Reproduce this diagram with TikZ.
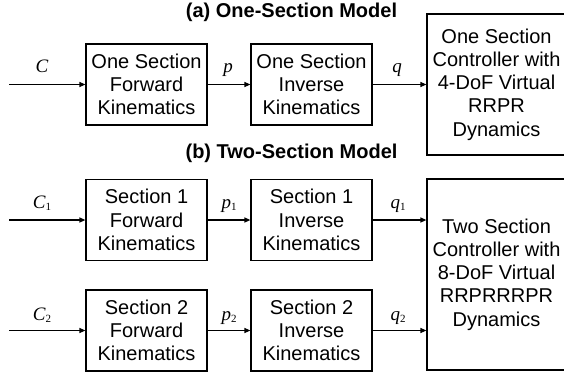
\documentclass[tikz,border=0pt]{standalone}
\usepackage{fontspec}
\setmainfont{Liberation Sans}
\newfontfamily\lblfont{Liberation Serif}
\usetikzlibrary{arrows.meta}
\newcommand{\lbl}[2]{{\lblfont\itshape\fontsize{19}{19}\selectfont #1}{\lblfont\fontsize{11}{11}\selectfont\raisebox{-2.5pt}{#2}}}
\tikzset{
  blk/.style={draw, line width=1.2pt, rectangle, align=center, inner sep=0pt,
    font=\fontsize{20}{23.3}\selectfont},
  arr/.style={line width=1.2pt, -{Triangle[length=6pt,width=5pt]}},
  lab/.style={anchor=base, inner sep=0pt},
  ttl/.style={anchor=base, inner sep=0pt, font=\fontsize{20}{22}\selectfont\bfseries}
}
\begin{document}
\begin{tikzpicture}[x=1pt,y=-1pt]
\useasboundingbox (0,0) rectangle (564,373);
\clip (0,0) rectangle (564,373);
% titles
\node[ttl] (ta) at (291.5,17.5) {(a) One-Section Model};
\node[ttl] (tb) at (291.5,158) {(b) Two-Section Model};
% row a
\node[blk, minimum width=121, minimum height=81] (F0) at (146.5,84.5) {One Section\\Forward\\Kinematics};
\node[blk, minimum width=121, minimum height=81] (I0) at (311.5,84.5) {One Section\\Inverse\\Kinematics};
\node[blk, minimum width=139, minimum height=141] (Ca) at (496.5,84.5) {One Section\\Controller with\\4-DoF Virtual\\RRPR\\Dynamics};
\coordinate (inC) at (9,84.5);
\draw[arr] (inC) -- (F0.west);
\draw[arr] (F0.east) -- (I0.west);
\draw[arr] (I0.east) -- (I0.east -| Ca.west);
\node[lab] (lC) at (42,72) {\lbl{C}{}};
\node[lab] (lp) at (228,72) {\lbl{p}{}};
\node[lab] (lq) at (397,72) {\lbl{q}{}};
% row b
\node[blk, minimum width=121, minimum height=81] (F1) at (146.5,220) {Section 1\\Forward\\Kinematics};
\node[blk, minimum width=121, minimum height=81] (I1) at (311.5,220) {Section 1\\Inverse\\Kinematics};
\node[blk, minimum width=121, minimum height=81] (F2) at (146.5,330.5) {Section 2\\Forward\\Kinematics};
\node[blk, minimum width=121, minimum height=81] (I2) at (311.5,330.5) {Section 2\\Inverse\\Kinematics};
\node[blk, minimum width=139, minimum height=191] (Cb) at (496.5,274.5) {Two Section\\Controller with\\8-DoF Virtual\\RRPRRRPR\\Dynamics};
\coordinate (inC1) at (9,220);
\coordinate (inC2) at (9,330.5);
\draw[arr] (inC1) -- (F1.west);
\draw[arr] (F1.east) -- (I1.west);
\draw[arr] (I1.east) -- (I1.east -| Cb.west);
\draw[arr] (inC2) -- (F2.west);
\draw[arr] (F2.east) -- (I2.west);
\draw[arr] (I2.east) -- (I2.east -| Cb.west);
\node[lab] (lC1) at (42,208) {\lbl{C}{1}};
\node[lab] (lp1) at (229,208) {\lbl{p}{1}};
\node[lab] (lq1) at (398,208) {\lbl{q}{1}};
\node[lab] (lC2) at (42,320) {\lbl{C}{2}};
\node[lab] (lp2) at (229,320) {\lbl{p}{2}};
\node[lab] (lq2) at (398,320) {\lbl{q}{2}};
\end{tikzpicture}
\end{document}
